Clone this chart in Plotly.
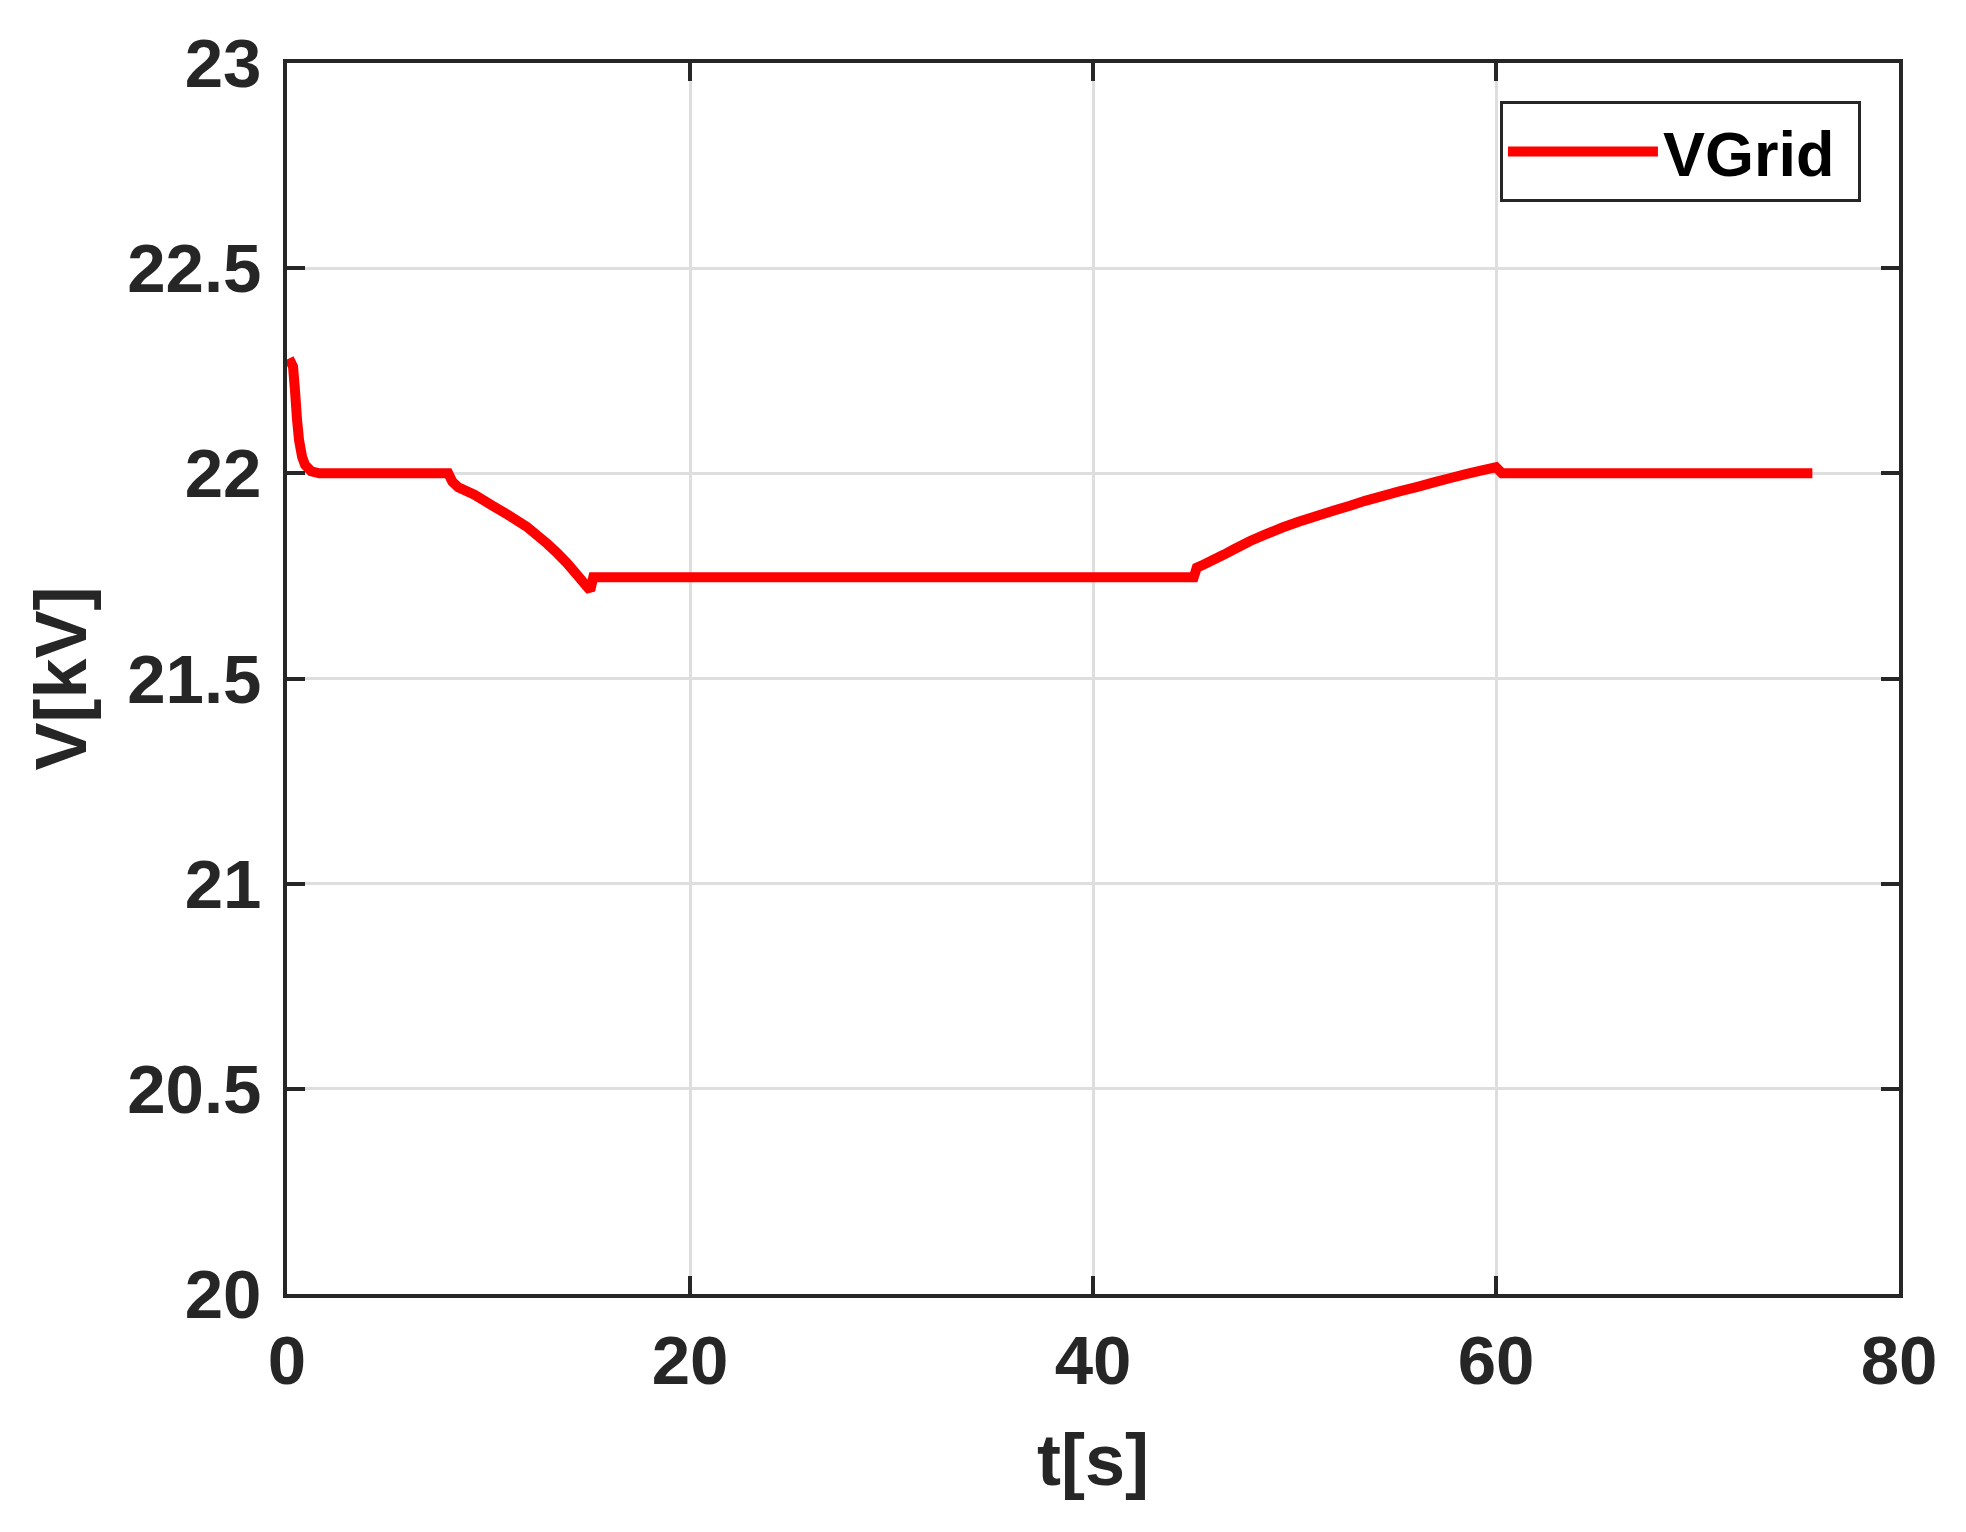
import plotly.graph_objects as go

# time [s] and grid voltage [kV]
t_s = [0.1, 0.3, 0.4, 0.5, 0.6, 0.75, 0.9, 1.2, 1.6,
       8.0, 8.2, 8.5, 9.3, 10.2, 11.0, 11.9, 12.9, 13.4, 13.9, 14.4, 14.9, 15.05, 15.2,
       45.0, 45.15, 45.5, 46.0, 46.5, 47.0, 47.8, 48.5, 49.4, 50.2, 51.1, 52.0, 52.75,
       53.5, 54.4, 55.2, 56.1, 57.0, 57.7, 58.5, 59.3, 60.0, 60.3, 75.7]
v_grid = [22.28, 22.26, 22.2, 22.13, 22.08, 22.04, 22.02, 22.005, 22.0,
          22.0, 21.98, 21.966, 21.948, 21.921, 21.898, 21.870, 21.829, 21.806, 21.781,
          21.752, 21.723, 21.715, 21.747,
          21.747, 21.77, 21.778, 21.79, 21.802, 21.815, 21.835, 21.85, 21.868, 21.882,
          21.896, 21.91, 21.921, 21.933, 21.945, 21.956, 21.967, 21.979, 21.988, 21.998,
          22.007, 22.015, 22.0, 22.0]

x_ticks = [0, 20, 40, 60, 80]
y_ticks = [20, 20.5, 21, 21.5, 22, 22.5, 23]
y_tick_text = ["20", "20.5", "21", "21.5", "22", "22.5", "23"]

FONT = "Liberation Sans, Arial, sans-serif"
INK = "#262626"

fig = go.Figure()
fig.add_trace(go.Scatter(
    x=t_s, y=v_grid, mode="lines", name="VGrid\u00a0",
    line=dict(color="#FF0000", width=10, simplify=False),
))

axis_common = dict(
    showline=True, linecolor=INK, linewidth=3.5, mirror="ticks",
    ticks="inside", ticklen=18, tickwidth=3.5, tickcolor=INK,
    showgrid=True, gridcolor="#DEDEDE", gridwidth=3,
    zeroline=False,
    tickfont=dict(family=FONT, size=69, color=INK, weight="bold"),
)

fig.update_layout(
    width=1950, height=1516,
    margin=dict(l=279, r=59, t=55, b=230),
    paper_bgcolor="white", plot_bgcolor="white",
    xaxis=dict(
        range=[0, 80], tickvals=x_ticks,
        title=dict(text="t[s]", standoff=38,
                   font=dict(family=FONT, size=72, color=INK, weight="bold")),
        ticklabelstandoff=3,
        **axis_common,
    ),
    yaxis=dict(
        range=[20, 23], tickvals=y_ticks, ticktext=y_tick_text,
        title=dict(text="V[kV]", standoff=18,
                   font=dict(family=FONT, size=72, color=INK, weight="bold")),
        ticklabelstandoff=8,
        **axis_common,
    ),
    showlegend=True,
    legend=dict(
        x=0.9764, y=0.969, xanchor="right", yanchor="top",
        bgcolor="white", bordercolor=INK, borderwidth=3,
        font=dict(family=FONT, size=63, color="black", weight="bold"),
        itemwidth=150,
    ),
)

fig.write_html("out.html")
